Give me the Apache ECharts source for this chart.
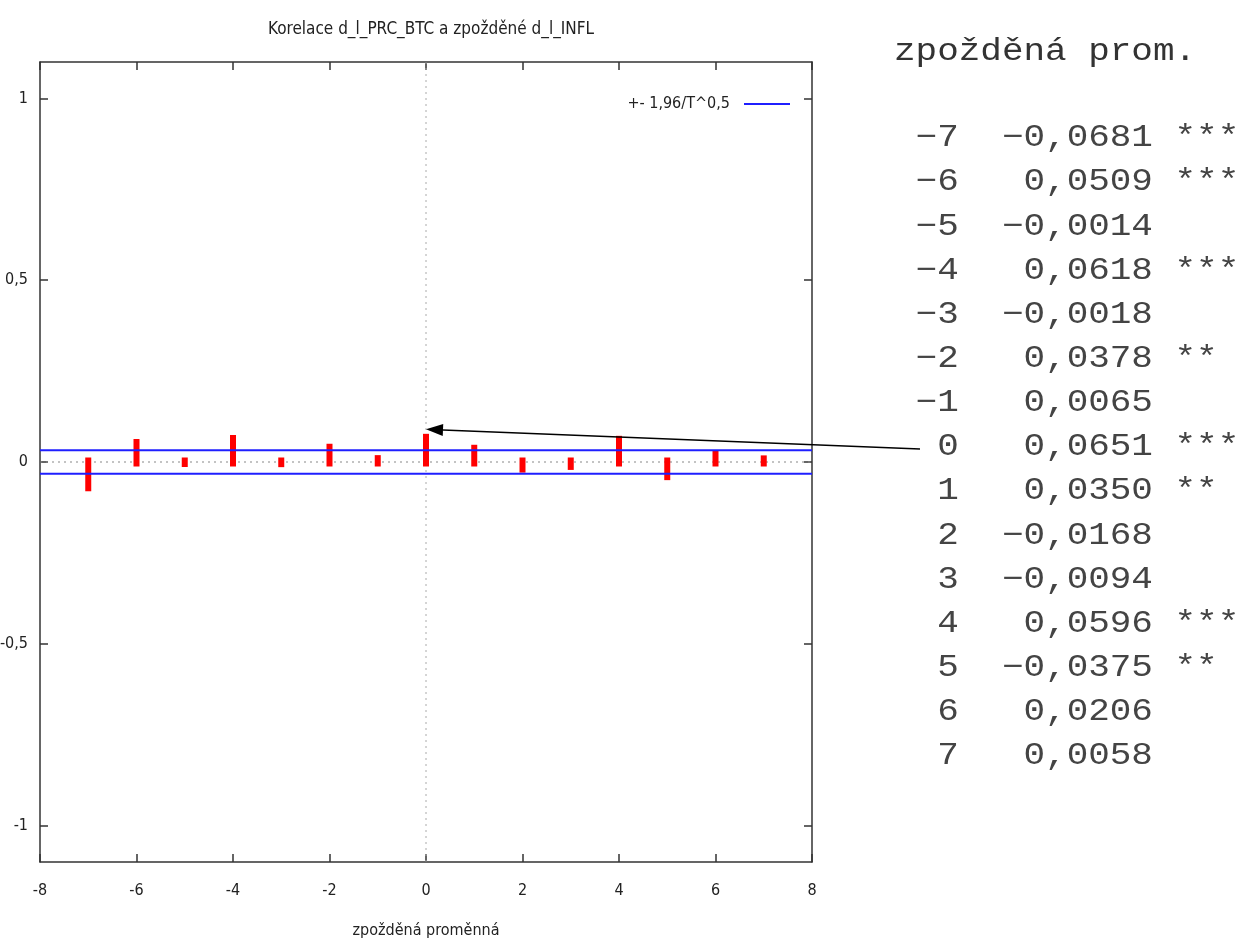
<!DOCTYPE html>
<html><head><meta charset="utf-8">
<script src="https://cdn.jsdelivr.net/npm/echarts@6/dist/echarts.min.js"></script>
<style>html,body{margin:0;padding:0;background:#fff}#c{width:1247px;height:943px}</style>
</head><body><div id="c"></div>
<script>
const lags = [-7,-6,-5,-4,-3,-2,-1,0,1,2,3,4,5,6,7];
const corr = [-0.0681,0.0509,-0.0014,0.0618,-0.0018,0.0378,0.0065,0.0651,0.0350,-0.0168,-0.0094,0.0596,-0.0375,0.0206,0.0058];
const stars = ['***','***','','***','','**','','***','**','','','***','**','',''];
const band = 0.0325;
const xTicks = [-8,-6,-4,-2,0,2,4,6,8];
const yTicks = [-1,-0.5,0,0.5,1];
const titleText = 'Korelace d_l_PRC_BTC a zpožděné d_l_INFL';
const xName = 'zpožděná proměnná';
const legendName = '+- 1,96/T^0,5';
const tableHeader = 'zpožděná prom.';

const F = '"DejaVu Sans Condensed","DejaVu Sans",sans-serif';
const chart = echarts.init(document.getElementById('c'));
const axisLine = {onZero:false, lineStyle:{color:'#333', width:1.5}};
const tickIn = {inside:true, length:8, lineStyle:{color:'#333', width:1.5}};
const fmt = v => String(v).replace('.', ',');

function pad(s, n){ s = String(s); while (s.length < n) s = ' ' + s; return s; }
const rows = lags.map((l,i) => ' ' + pad(fmt(l).replace('-', '\u2212'),2) + '  ' + pad(corr[i].toFixed(4).replace('.', ',').replace('-', '\u2212'),7) + ' ' + stars[i]);

chart.setOption({
  animation:false,
  backgroundColor:'#fff',
  title:{text:titleText, left:426, top:16, textAlign:'center',
    textStyle:{fontFamily:F, fontSize:17, fontWeight:'normal', color:'#222'}},
  legend:{right:452, top:91, align:'right', itemWidth:46, itemHeight:2, icon:'rect',
    data:[{name:legendName}],
    formatter: n => n + '  ',
    textStyle:{fontFamily:F, fontSize:16, color:'#222'}},
  grid:{left:40, right:435, top:62, bottom:81, containLabel:false, outerBoundsMode:'none'},
  xAxis:[
    {type:'value', min:-8, max:8, interval:2, position:'bottom',
     name:xName, nameLocation:'middle', nameGap:61,
     nameTextStyle:{fontFamily:F, fontSize:16, color:'#222'},
     axisLine:axisLine, axisTick:tickIn, splitLine:{show:false},
     axisLabel:{fontFamily:F, fontSize:16, color:'#222', margin:21}},
    {type:'value', min:-8, max:8, interval:2, position:'top',
     axisLine:axisLine, axisTick:tickIn, splitLine:{show:false}, axisLabel:{show:false}}
  ],
  yAxis:[
    {type:'value', min:-1.1, max:1.1, position:'left',
     axisLine:axisLine, axisTick:{...tickIn, customValues:yTicks}, splitLine:{show:false},
     axisLabel:{fontFamily:F, fontSize:16, color:'#222', margin:12, customValues:yTicks,
       formatter: v => fmt(v)}},
    {type:'value', min:-1.1, max:1.1, position:'right',
     axisLine:axisLine, axisTick:{...tickIn, customValues:yTicks}, splitLine:{show:false}, axisLabel:{show:false}}
  ],
  series:[
    {type:'line', name:'zero-x', silent:true, symbol:'none', data:[[-8,0],[8,0]],
     lineStyle:{color:'#888', width:1.2, type:[2,4]}, z:1},
    {type:'line', name:'zero-y', silent:true, symbol:'none', data:[[0,-1.1],[0,1.1]],
     lineStyle:{color:'#aaa', width:1, type:[2,4]}, z:1},
    {type:'line', name:legendName, symbol:'none', data:[[-8,band],[8,band]],
     color:'#1f1fff', lineStyle:{color:'#1f1fff', width:2}, z:3},
    {type:'line', name:legendName+'_lo', symbol:'none', data:[[-8,-band],[8,-band]],
     lineStyle:{color:'#1f1fff', width:2}, z:3},
    {type:'custom', name:'corr', z:2,
     data: lags.map((l,i)=>[l,corr[i]]),
     renderItem:(params, api) => {
       const x = api.value(0), v = api.value(1);
       const p0 = api.coord([x,0]), p1 = api.coord([x,v]);
       const cap = 4.5;
       const top = Math.min(p0[1],p1[1]) - cap, bot = Math.max(p0[1],p1[1]) + cap;
       return {type:'rect', shape:{x:p0[0]-3, y:top, width:6, height:bot-top}, style:{fill:'#ff0000'}};
     }}
  ]
});

// annotation table and arrow
const tip = chart.convertToPixel({xAxisIndex:0, yAxisIndex:0}, [0, 0.09]);
const tail = [920, 449];
const ang = Math.atan2(tail[1]-tip[1], tail[0]-tip[0]);
const L = 17, W = 6;
const bx = tip[0] + L*Math.cos(ang), by = tip[1] + L*Math.sin(ang);
const head = [tip, [bx - W*Math.sin(ang), by + W*Math.cos(ang)], [bx + W*Math.sin(ang), by - W*Math.cos(ang)]];
const MF = '"Liberation Mono","Courier New",monospace';
const SX = 1.16;
const g = [
  {type:'line', shape:{x1:tail[0], y1:tail[1], x2:bx, y2:by}, style:{stroke:'#000', lineWidth:1.5}, z:10},
  {type:'polygon', shape:{points:head}, style:{fill:'#000'}, z:10},
  {type:'text', x:894, y:52, scaleX:SX, style:{text:tableHeader, font:'31px '+MF, fill:'#333', verticalAlign:'middle'}}
];
rows.forEach((r,i) => {
  g.push({type:'text', x:894, y:138 + i*44.15, scaleX:SX, style:{text:r, font:'31px '+MF, fill:'#444', verticalAlign:'middle'}});
});
chart.setOption({graphic:g});
</script>
</body></html>
